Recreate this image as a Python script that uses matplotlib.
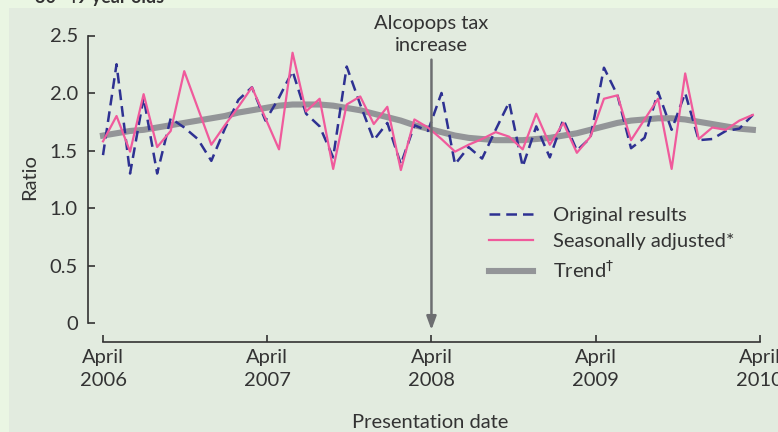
import numpy as np
import matplotlib
matplotlib.use('Agg')
from matplotlib import pyplot as plt
from matplotlib.patches import Rectangle
from matplotlib.lines import Line2D

# monthly presentation ratios, April 2006 .. April 2010
original = [1.46, 2.25, 1.30, 1.96, 1.30, 1.78, 1.70, 1.60, 1.41, 1.69,
            1.94, 2.05, 1.76, 1.96, 2.19, 1.82, 1.71, 1.44, 2.23, 1.90,
            1.59, 1.74, 1.38, 1.72, 1.67, 2.00, 1.38, 1.53, 1.43, 1.68,
            1.92, 1.36, 1.71, 1.44, 1.77, 1.50, 1.61, 2.22, 1.98, 1.52,
            1.61, 2.01, 1.68, 2.00, 1.59, 1.60, 1.67, 1.69, 1.81]
seasonal = [1.58, 1.80, 1.49, 1.99, 1.53, 1.67, 2.19, 1.87, 1.55, 1.72,
            1.88, 2.05, 1.78, 1.51, 2.35, 1.84, 1.95, 1.34, 1.90, 1.97,
            1.73, 1.88, 1.33, 1.77, 1.70, 1.60, 1.49, 1.55, 1.60, 1.66,
            1.62, 1.51, 1.82, 1.55, 1.74, 1.48, 1.62, 1.95, 1.98, 1.59,
            1.77, 1.95, 1.34, 2.17, 1.60, 1.70, 1.68, 1.76, 1.81]
trend = [1.63, 1.65, 1.67, 1.68, 1.70, 1.72, 1.74, 1.76, 1.78, 1.80,
         1.83, 1.85, 1.87, 1.89, 1.90, 1.90, 1.90, 1.89, 1.87, 1.85,
         1.82, 1.79, 1.76, 1.72, 1.69, 1.66, 1.63, 1.61, 1.60, 1.59,
         1.59, 1.59, 1.60, 1.61, 1.63, 1.65, 1.68, 1.71, 1.74, 1.76,
         1.77, 1.78, 1.78, 1.77, 1.75, 1.73, 1.71, 1.69, 1.68]
year_labels = ['April\n2006', 'April\n2007', 'April\n2008', 'April\n2009', 'April\n2010']
y_ticks = [0, 0.5, 1.0, 1.5, 2.0, 2.5]
y_labels = ['0', '0.5', '1.0', '1.5', '2.0', '2.5']

col_orig = '#2e3192'
col_seas = '#f05a9c'
col_trend = '#939598'
col_text = '#333333'

plt.rcParams['font.family'] = ['Lato', 'DejaVu Sans']
plt.rcParams['font.size'] = 14.5
plt.rcParams['text.color'] = col_text

months = np.arange(len(original))
tick_pos = np.arange(len(year_labels)) * 12.13
tax_month = tick_pos[2]

fig = plt.figure(figsize=(7.78, 4.32), dpi=100)
fig.patch.set_facecolor('#eaf6e3')
fig.patches.append(Rectangle((9 / 778, 0), 1, 424 / 432, transform=fig.transFigure,
                             facecolor='#e2ebdf', edgecolor='none', zorder=-5))
fig.text(35 / 778, 1 - 3 / 432, '30\u201349 year olds', fontweight='bold',
         fontsize=13, va='baseline')

ax = fig.add_axes([87.5 / 778, 90 / 432, 673.5 / 778, 306.5 / 432])
ax.set_facecolor('none')
ax.set_xlim(-1.145, 48.6)
ax.set_ylim(-0.165, 2.5)

ax.plot(months, trend, color=col_trend, linewidth=4.4, clip_on=False)
ax.plot(months, original, color=col_orig, linewidth=1.8, linestyle=(0, (4.3, 2.4)), clip_on=False)
ax.plot(months, seasonal, color=col_seas, linewidth=1.6, clip_on=False)

# tax increase marker
ax.annotate('', xy=(tax_month, -0.06), xytext=(tax_month, 2.29),
            arrowprops=dict(arrowstyle='-|>,head_length=0.55,head_width=0.2',
                            color='#6d6e71', lw=1.8, shrinkA=0, shrinkB=0))
ax.text(tax_month, 2.51, 'Alcopops tax\nincrease', ha='center', va='center',
        linespacing=1.35, clip_on=False)

for s in ['top', 'right']:
    ax.spines[s].set_visible(False)
ax.spines['left'].set_bounds(0, 2.5)
ax.spines['bottom'].set_bounds(tick_pos[0], tick_pos[-1])
for s in ['left', 'bottom']:
    ax.spines[s].set_color(col_text)
    ax.spines[s].set_linewidth(1.2)

ax.set_yticks(y_ticks)
ax.set_yticklabels(y_labels)
ax.set_xticks(tick_pos)
ax.set_xticklabels(year_labels, linespacing=1.45)
ax.tick_params(axis='y', direction='in', length=5, width=1.2, pad=7, colors=col_text)
ax.tick_params(axis='x', direction='in', length=5, width=1.2, pad=5, colors=col_text)

fig.text(30 / 778, 1 - 177 / 432, 'Ratio', rotation=90, ha='center', va='center')
fig.text(430 / 778, 1 - 423 / 432, 'Presentation date', ha='center', va='center')

handles = [Line2D([], [], color=col_orig, linewidth=1.8, linestyle=(0, (4.3, 2.4))),
           Line2D([], [], color=col_seas, linewidth=1.6),
           Line2D([], [], color=col_trend, linewidth=4.4)]
labels = ['Original results', 'Seasonally adjusted*', r'Trend$^{\dagger}$']
ax.legend(handles, labels, loc='center left', bbox_to_anchor=(0.596, 0.32),
          frameon=False, borderpad=0, borderaxespad=0, handlelength=2.2,
          handletextpad=1.0, labelspacing=0.45)

fig.savefig('out.png', dpi=100, facecolor=fig.get_facecolor())
